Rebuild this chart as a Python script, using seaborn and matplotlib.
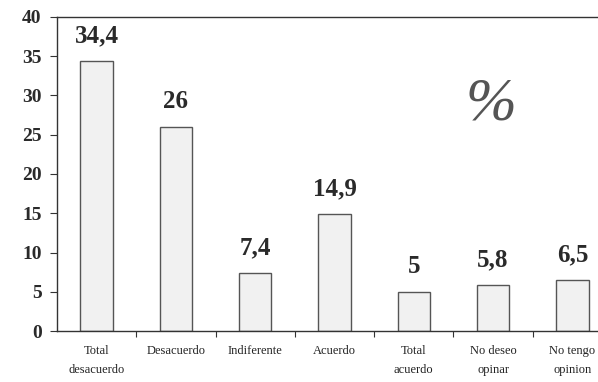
import matplotlib
matplotlib.use("Agg")
import matplotlib.pyplot as plt
import seaborn as sns
import pandas as pd
import numpy as np

# Response categories and their percentages
categories = ["Total\ndesacuerdo", "Desacuerdo", "Indiferente", "Acuerdo",
              "Total\nacuerdo", "No deseo\nopinar", "No tengo\nopinion"]
percentages = [34.4, 26, 7.4, 14.9, 5, 5.8, 6.5]
y_ticks = [0, 5, 10, 15, 20, 25, 30, 35, 40]

df = pd.DataFrame({"categoria": categories, "porcentaje": percentages})

sns.set_style("white")
plt.rcParams["font.family"] = ["Liberation Serif", "DejaVu Serif"]

fig = plt.figure(figsize=(5.98, 3.82), dpi=100)
ax = fig.add_axes([57 / 598, 51 / 382, 555 / 598, 314 / 382])

sns.barplot(data=df, x="categoria", y="porcentaje", ax=ax, width=0.41,
            color="#f1f1f1", saturation=1, edgecolor="#555555", linewidth=1.0)

# Value labels above each bar
for i, v in enumerate(percentages):
    ax.annotate(f"{v:g}".replace(".", ","), (i, v), xytext=(0, 10),
                textcoords="offset points", ha="center", va="bottom",
                fontsize=18, fontweight="bold", color="#2a2a2a")

ax.set_xlim(-0.5, len(categories) - 0.5)
ax.set_ylim(0, 40)
ax.set_yticks(y_ticks)
ax.set_yticklabels([str(t) for t in y_ticks], fontsize=14, fontweight="bold",
                   color="#2a2a2a")
ax.tick_params(axis="y", direction="out", length=5, width=0.8, color="#333333",
               left=True, pad=6)

# Category labels at bar centers, tick marks between categories
ax.set_xticks(range(len(categories)))
ax.set_xticklabels(categories, fontsize=9, color="#222222", linespacing=1.8)
ax.tick_params(axis="x", which="major", length=0, pad=10)
ax.set_xticks(np.arange(0.5, len(categories) - 0.5, 1), minor=True)
ax.tick_params(axis="x", which="minor", direction="out", length=4, width=0.8,
               color="#333333", bottom=True)

ax.set_xlabel("")
ax.set_ylabel("")

for side in ["left", "top", "bottom"]:
    ax.spines[side].set_visible(True)
    ax.spines[side].set_color("#333333")
    ax.spines[side].set_linewidth(1.0)
ax.spines["right"].set_visible(False)

fig.text(491 / 598, 1 - 105 / 382, "%", ha="center", va="center",
         fontsize=44, fontstyle="italic", fontweight="light", color="#555555")

fig.savefig("out.png", dpi=100)
